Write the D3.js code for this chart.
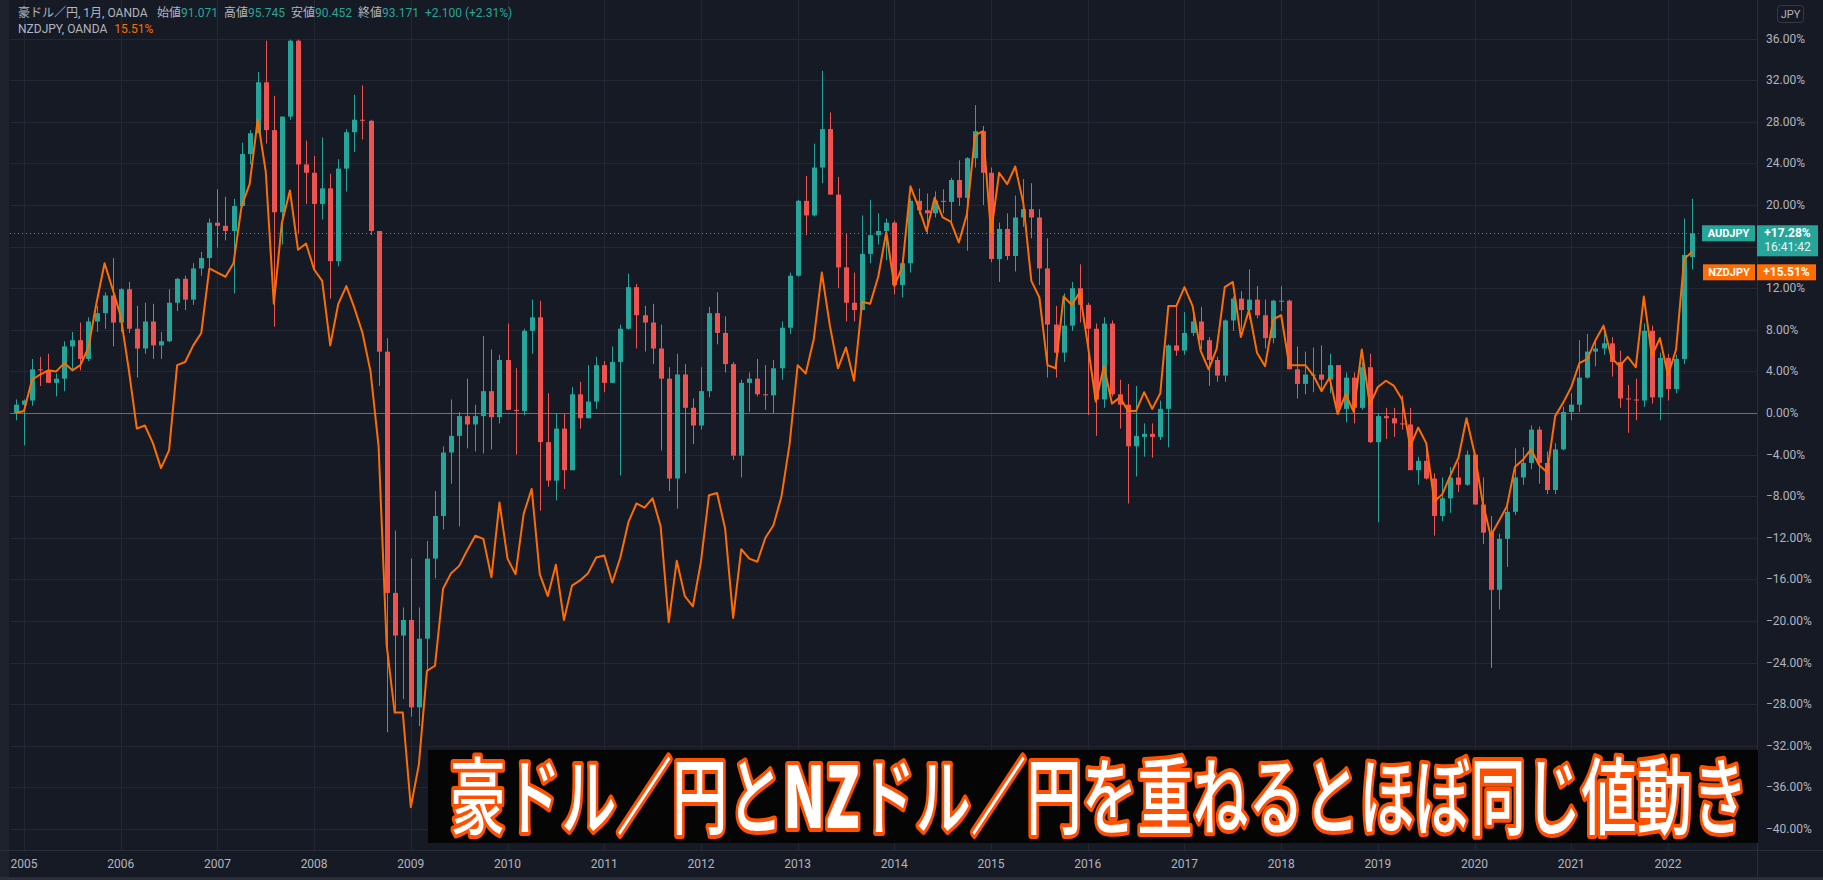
<!DOCTYPE html>
<html><head><meta charset="utf-8">
<script src="https://cdn.jsdelivr.net/npm/d3@7/dist/d3.min.js"></script>
<style>html,body{margin:0;padding:0;background:#161a25;overflow:hidden}</style>
</head><body><svg id="c" width="1823" height="880"></svg>
<script>
// ---- DATA (percent change vs. base, monthly, Dec 2004 .. Apr 2022) ----
const firstMonth = [2004, 11]; // Dec 2004 (JS month index)
const audOpen = [0,
 0.8,1.2,4.2,4.1,2.9,3.3,6.4,7.0,5.2,8.8,9.6,11.3,
 8.7,11.9,8.1,6.2,8.8,6.5,6.9,10.6,12.9,10.9,13.9,14.9,
 18.3,18.0,17.5,19.9,24.9,26.9,31.8,27.2,19.3,28.5,35.8,23.9,
 23.1,20.1,21.6,14.6,23.5,27.0,28.2,28.1,17.5,5.9,-17.3,-21.4,
 -19.9,-28.3,-21.7,-14.0,-9.9,-3.8,-2.2,-0.3,-1.1,-0.3,2.1,-0.4,
 5.1,0.3,0.2,7.9,9.2,-2.8,-6.5,-1.5,-5.5,1.8,-0.5,1.1,
 4.6,2.9,4.9,8.1,12.1,9.4,8.7,6.2,3.3,-6.3,3.7,0.5,
 -1.2,2.1,9.6,7.7,4.7,-4.1,2.9,3.3,1.8,1.7,4.3,8.2,
 13.2,20.4,19.0,23.6,27.3,21.0,14.0,10.6,9.9,15.3,17.1,17.5,
 18.3,12.3,14.4,20.4,19.5,19.2,20.4,20.3,22.4,20.7,24.5,27.1,
 23.1,14.8,17.7,15.1,18.8,19.6,18.8,13.9,8.5,5.8,8.4,12.0,
 10.4,8.1,1.3,8.6,1.8,0.8,-3.2,-2.3,-2.0,-2.3,0.4,6.5,
 6.0,7.7,8.8,7.0,5.1,3.6,8.9,11.0,9.9,10.9,9.4,7.2,
 10.7,10.8,4.2,2.8,3.6,3.7,3.2,4.6,0.4,3.4,0.5,4.4,
 -2.8,-0.3,-0.5,-1.0,-1.1,-5.5,-4.6,-6.3,-9.9,-8.2,-6.2,-6.9,
 -4.0,-8.8,-11.5,-17.0,-12.1,-9.5,-6.2,-4.8,-1.6,-4.8,-7.4,-3.5,
 0.1,0.8,3.4,5.9,6.2,6.7,4.9,1.4,1.3,1.2,7.9,1.5,
 5.3,2.3,5.2,15.0];
const audHigh = [1.3,
 1.3,5.2,5.4,5.7,3.8,6.9,7.8,8.7,9.2,10.3,11.6,14.9,
 12.0,12.6,10.3,10.6,10.5,7.8,11.9,13.0,13.2,14.4,15.5,18.7,
 21.5,20.8,20.6,26.0,27.2,32.8,35.8,30.5,28.5,35.9,35.9,26.2,
 24.7,26.5,23.0,24.4,27.3,30.6,31.5,28.2,17.5,7.2,-11.3,-18.7,
 -14.0,-18.7,-12.3,-7.5,-3.2,1.3,0.1,3.3,0.8,7.4,6.1,5.6,
 8.6,4.3,8.1,10.9,10.8,1.9,0.0,-0.1,2.5,3.0,4.6,5.4,
 5.0,6.4,8.5,13.4,12.4,10.3,10.5,8.5,4.4,5.7,4.7,1.4,
 4.4,10.2,11.6,9.3,4.9,3.2,3.9,5.2,4.6,5.1,8.8,13.5,
 20.5,22.8,25.9,32.9,28.9,22.7,17.2,13.5,19.0,20.5,19.2,18.7,
 18.5,14.5,20.6,21.6,21.1,21.3,21.5,22.6,24.3,24.6,29.6,27.6,
 23.6,18.3,19.2,20.9,22.5,22.1,19.6,16.8,10.3,11.5,12.6,14.3,
 10.6,8.6,9.2,8.9,3.2,2.8,2.6,-1.0,-1.0,1.2,6.6,10.3,
 9.7,10.2,10.2,7.3,5.4,9.0,11.2,11.7,13.8,12.2,10.9,10.9,
 12.2,10.9,6.4,5.9,6.3,6.5,5.7,4.6,3.9,3.9,4.9,5.7,
 -0.1,0.5,0.5,1.7,0.5,-4.2,-3.2,-5.8,-6.2,-5.2,-4.7,-3.6,
 -3.9,-6.2,-9.9,-11.6,-9.0,-3.4,-3.3,-1.2,-1.3,-3.7,-2.9,0.6,
 1.9,7.0,7.6,7.0,8.1,7.3,6.0,2.7,3.3,8.6,8.4,5.8,
 5.7,5.6,18.7,20.6];
const audLow = [-0.7,
 -3.1,0.7,2.6,2.9,1.6,2.1,4.2,4.1,5.0,7.8,8.1,6.4,
 7.8,7.7,3.4,5.7,5.2,5.2,6.8,9.8,9.9,10.4,13.2,14.0,
 15.9,16.6,11.5,19.8,23.9,26.9,25.9,8.3,16.2,28.2,17.2,20.1,
 13.7,18.6,11.0,14.1,21.3,25.1,26.3,17.1,2.6,-30.7,-28.7,-27.5,
 -29.2,-30.1,-24.7,-15.9,-11.2,-6.8,-10.9,-3.4,-3.7,-3.9,-3.5,-1.0,
 0.3,-4.0,-0.2,5.7,-9.4,-7.1,-8.4,-7.3,-5.5,-1.5,-0.5,0.4,
 2.0,2.9,-6.0,8.0,6.2,5.9,4.7,-3.6,-7.5,-9.2,-5.8,-3.0,
 -1.6,1.5,6.6,3.9,-4.5,-6.2,0.1,1.6,0.3,0.0,3.2,7.6,
 13.1,17.1,18.9,22.1,21.0,12.0,8.8,8.8,9.9,14.4,16.2,14.7,
 11.4,11.1,13.5,19.1,17.2,18.8,19.2,18.3,19.9,15.6,23.6,20.0,
 14.5,12.6,14.7,13.6,17.9,16.8,12.3,3.4,3.4,4.9,7.9,8.7,
 -0.2,-2.2,0.5,1.6,-1.5,-8.7,-6.1,-4.2,-4.3,-2.6,-3.3,5.5,
 5.6,7.4,6.1,2.6,3.0,3.0,7.9,8.0,9.0,9.1,6.2,6.7,
 9.8,4.2,1.4,1.8,2.0,2.1,1.9,-0.1,-0.9,-1.0,0.3,-2.9,
 -10.5,-2.5,-2.3,-1.6,-5.5,-6.9,-6.4,-11.8,-10.4,-9.6,-7.6,-7.0,
 -8.8,-12.6,-24.5,-18.9,-14.8,-9.8,-6.9,-5.4,-6.8,-7.8,-7.8,-3.6,
 -0.7,0.1,3.3,4.5,5.6,3.5,0.5,-1.9,-0.7,0.6,0.9,-0.7,
 1.2,1.9,4.7,13.8];
const audClose = [0.8,
 1.2,4.2,4.1,2.9,3.3,6.4,7.0,5.2,8.8,9.6,11.3,8.7,
 11.9,8.1,6.2,8.8,6.5,6.9,10.6,12.9,10.9,13.9,14.9,18.3,
 18.0,17.5,19.9,24.9,26.9,31.8,27.2,19.3,28.5,35.8,23.9,23.1,
 20.1,21.6,14.6,23.5,27.0,28.2,28.1,17.5,5.9,-17.3,-21.4,-19.9,
 -28.3,-21.7,-14.0,-9.9,-3.8,-2.2,-0.3,-1.1,-0.3,2.1,-0.4,5.1,
 0.3,0.2,7.9,9.2,-2.8,-6.5,-1.5,-5.5,1.8,-0.5,1.1,4.6,
 2.9,4.9,8.1,12.1,9.4,8.7,6.2,3.3,-6.3,3.7,0.5,-1.2,
 2.1,9.6,7.7,4.7,-4.1,2.9,3.3,1.8,1.7,4.3,8.2,13.2,
 20.4,19.0,23.6,27.3,21.0,14.0,10.6,9.9,15.3,17.1,17.5,18.3,
 12.3,14.4,20.4,19.5,19.2,20.4,20.3,22.4,20.7,24.5,27.1,23.1,
 14.8,17.7,15.1,18.8,19.6,18.8,13.9,8.5,5.8,8.4,12.0,10.4,
 8.1,1.3,8.6,1.8,0.8,-3.2,-2.2,-2.0,-2.3,0.4,6.5,6.0,
 7.7,8.8,7.0,5.1,3.6,8.9,11.0,9.9,10.9,9.4,7.2,10.8,
 10.8,4.2,2.8,3.7,3.7,3.2,4.6,0.4,3.4,0.5,4.4,-2.8,
 -0.3,-0.5,-1.0,-1.1,-5.5,-4.6,-6.3,-9.9,-8.2,-6.2,-6.9,-4.0,
 -8.8,-11.5,-17.0,-12.1,-9.5,-6.2,-4.8,-1.6,-4.8,-7.4,-3.5,0.1,
 0.8,3.4,5.9,6.2,6.7,4.9,1.4,1.3,1.2,7.9,1.5,5.3,
 2.3,5.2,15.2,17.28];
const nzdClose = [0,
 0.2,3.2,3.7,4.1,4.0,4.8,4.1,4.6,6.3,10.6,14.4,11.9,
 9.3,4.2,-1.5,-1.2,-2.9,-5.3,-3.6,4.6,4.9,6.5,7.7,13.9,
 13.5,13.1,14.4,19.9,22.0,28.2,23.2,10.5,18.3,21.4,15.7,16.3,
 13.8,12.7,6.5,10.5,12.2,10.1,7.7,4.0,-3.2,-22.3,-28.8,-28.8,
 -37.9,-33.8,-24.8,-24.3,-16.9,-15.4,-14.7,-13.2,-11.8,-12.1,-15.8,-8.6,
 -14.0,-15.5,-9.7,-7.3,-15.5,-17.6,-14.6,-19.9,-16.6,-16.1,-15.4,-13.9,
 -13.7,-16.3,-13.9,-10.5,-8.7,-9.1,-8.2,-10.9,-20.1,-14.2,-17.6,-18.6,
 -14.3,-7.9,-7.7,-11.1,-19.7,-13.1,-14.0,-14.3,-12.0,-10.8,-8.0,-3.0,
 4.6,3.8,7.1,13.5,8.4,4.3,6.3,3.1,10.7,10.5,13.1,17.4,
 12.2,14.1,21.8,19.8,17.5,20.7,18.8,18.4,16.4,19.1,26.7,27.1,
 17.3,23.1,22.0,23.7,20.2,12.7,11.1,4.6,4.3,11.2,10.4,11.6,
 6.6,1.1,4.5,0.9,1.5,0.2,0.2,2.0,0.4,1.9,10.3,10.3,
 12.1,10.3,6.0,4.2,6.2,12.1,12.6,7.3,9.9,5.8,4.5,9.0,
 9.4,4.6,4.6,4.6,3.6,2.1,3.4,-0.1,1.8,0.1,6.1,0.8,
 2.5,3.1,2.6,1.3,-3.2,-1.4,-2.9,-8.5,-7.8,-6.0,-4.3,-0.5,
 -3.9,-8.6,-11.8,-10.4,-9.0,-5.2,-4.5,-3.5,-5.0,-5.7,-0.3,1.0,
 2.5,4.8,5.2,7.0,8.4,5.3,4.5,5.4,4.4,11.2,5.5,7.2,
 3.6,6.1,14.8,15.51];
const yTicks = [36,32,28,24,20,16,12,8,4,0,-4,-8,-12,-16,-20,-24,-28,-32,-36,-40];
const yearLabels = ["2005","2006","2007","2008","2009","2010","2011","2012","2013","2014","2015","2016","2017","2018","2019","2020","2021","2022"];
const legendTitle = "豪ドル／円, 1月, OANDA";
const legendOHLC = [["始値","91.071"],["高値","95.745"],["安値","90.452"],["終値","93.171"]];
const legendChange = "+2.100 (+2.31%)";
const series2Name = "NZDJPY, OANDA";
const audLabel = "AUDJPY", nzdLabel = "NZDJPY";
const audLast = "+17.28%", nzdLast = "+15.51%", countdown = "16:41:42";
const banner = ["豪ドル／円と","NZ","ドル／円を重ねるとほぼ同じ値動き"];

// ---- LAYOUT ----
const W = 1823, H = 880;
const plotL = 10, plotR = 1757, plotB = 850;
const UP = "#26a69a", DOWN = "#ef5350", ORANGE = "#ff6d00";
const TXT = "#b2b5be", GRID = "#232733";
const FONT = "Roboto, 'Noto Sans CJK JP', sans-serif";

const svg = d3.select("#c");
svg.append("rect").attr("width", W).attr("height", H).attr("fill", "#161a25");
svg.append("rect").attr("x", 0).attr("y", 0).attr("width", 9).attr("height", H).attr("fill", "#1e222d");

const months = audClose.map((_, i) => new Date(firstMonth[0], firstMonth[1] + i, 1));
const x = d3.scaleLinear().domain([1, 205]).range([24, 1668]);   // month index -> px
const y = d3.scaleLinear().domain([-40, 36]).range([829, 38.6]);  // percent -> px
const px = v => Math.round(v) + 0.5;

const defs = svg.append("defs");
defs.append("clipPath").attr("id", "plotclip").append("rect")
  .attr("x", plotL).attr("y", 0).attr("width", plotR - plotL).attr("height", plotB);

// grid
const grid = svg.append("g");
grid.selectAll("line.h").data(yTicks).join("line")
  .attr("x1", plotL).attr("x2", plotR)
  .attr("y1", d => px(y(d))).attr("y2", d => px(y(d)))
  .attr("stroke", GRID).attr("stroke-width", 1);
const yearIdx = yearLabels.map(yl => months.findIndex(m => m.getFullYear() === +yl && m.getMonth() === 0));
grid.selectAll("line.v").data(yearIdx).join("line")
  .attr("x1", d => px(x(d))).attr("x2", d => px(x(d)))
  .attr("y1", 0).attr("y2", plotB)
  .attr("stroke", GRID).attr("stroke-width", 1);

const plot = svg.append("g").attr("clip-path", "url(#plotclip)");
// zero line
plot.append("line").attr("x1", plotL).attr("x2", plotR)
  .attr("y1", px(y(0))).attr("y2", px(y(0))).attr("stroke", "#6b6e79").attr("stroke-width", 1);

// candles
const idx = d3.range(audClose.length);
const cg = plot.append("g");
cg.selectAll("line.wick").data(idx).join("line")
  .attr("x1", i => px(x(i))).attr("x2", i => px(x(i)))
  .attr("y1", i => y(audHigh[i])).attr("y2", i => y(audLow[i]))
  .attr("stroke", i => audClose[i] >= audOpen[i] ? UP : DOWN).attr("stroke-width", 1);
cg.selectAll("rect.body").data(idx).join("rect")
  .attr("x", i => Math.round(x(i)) - 2).attr("width", 5)
  .attr("y", i => y(Math.max(audOpen[i], audClose[i])))
  .attr("height", i => Math.max(1, Math.abs(y(audOpen[i]) - y(audClose[i]))))
  .attr("fill", i => audClose[i] >= audOpen[i] ? UP : DOWN);

// last price dotted line
const lastA = audClose[audClose.length - 1], lastN = nzdClose[nzdClose.length - 1];
plot.append("line").attr("x1", plotL).attr("x2", plotR)
  .attr("y1", px(y(lastA))).attr("y2", px(y(lastA)))
  .attr("stroke", UP).attr("stroke-width", 1).attr("stroke-dasharray", "1,3");

// NZDJPY line
plot.append("path").datum(nzdClose)
  .attr("d", d3.line().x((d, i) => x(i)).y(d => y(d)))
  .attr("fill", "none").attr("stroke", ORANGE).attr("stroke-width", 2).attr("stroke-linejoin", "round");

// axes borders
svg.append("line").attr("x1", 0).attr("x2", W).attr("y1", plotB + 0.5).attr("y2", plotB + 0.5).attr("stroke", "#2a2e39");
svg.append("line").attr("x1", plotR + 0.5).attr("x2", plotR + 0.5).attr("y1", 0).attr("y2", H).attr("stroke", "#2a2e39");
svg.append("rect").attr("x", 0).attr("y", 877).attr("width", W).attr("height", 3).attr("fill", "#2a2e39");

// price label positions
const ya = y(lastA);
const yn = ya + 31;

// right axis labels (those hidden behind the price labels are not drawn)
const fmt = d => (d < 0 ? "\u2212" : "") + Math.abs(d).toFixed(2) + "%";
const visibleTicks = yTicks.filter(d => y(d) < ya - 14 || y(d) > yn + 22);
svg.append("g").selectAll("text").data(visibleTicks).join("text")
  .attr("x", 1766).attr("y", d => y(d) + 4)
  .attr("fill", TXT).attr("font-family", FONT).attr("font-size", 12).text(fmt);

// bottom axis labels
svg.append("g").selectAll("text").data(yearIdx).join("text")
  .attr("x", d => x(d)).attr("y", 868).attr("text-anchor", "middle")
  .attr("fill", TXT).attr("font-family", FONT).attr("font-size", 12)
  .text((d, i) => yearLabels[i]);

// JPY button
svg.append("rect").attr("x", 1777.5).attr("y", 5.5).attr("width", 26).attr("height", 17).attr("rx", 3)
  .attr("fill", "none").attr("stroke", "#363a45");
svg.append("text").attr("x", 1790.5).attr("y", 18).attr("text-anchor", "middle")
  .attr("fill", TXT).attr("font-family", FONT).attr("font-size", 11).text("JPY");

// price labels
svg.append("rect").attr("x", 1702).attr("y", ya - 8).attr("width", 53).attr("height", 16).attr("fill", UP);
svg.append("text").attr("x", 1728.5).attr("y", ya + 4).attr("text-anchor", "middle").attr("fill", "#fff")
  .attr("font-family", FONT).attr("font-weight", 700).attr("font-size", 11).text(audLabel);
svg.append("rect").attr("x", 1757).attr("y", ya - 8).attr("width", 61).attr("height", 31).attr("fill", UP);
svg.append("text").attr("x", 1787.5).attr("y", ya + 4).attr("text-anchor", "middle").attr("fill", "#fff")
  .attr("font-family", FONT).attr("font-weight", 700).attr("font-size", 12).text(audLast);
svg.append("text").attr("x", 1787.5).attr("y", ya + 18).attr("text-anchor", "middle").attr("fill", "#e8f5f3")
  .attr("font-family", FONT).attr("font-size", 12).text(countdown);
svg.append("rect").attr("x", 1703).attr("y", yn).attr("width", 52).attr("height", 16).attr("fill", ORANGE);
svg.append("text").attr("x", 1729).attr("y", yn + 12).attr("text-anchor", "middle").attr("fill", "#fff")
  .attr("font-family", FONT).attr("font-weight", 700).attr("font-size", 11).text(nzdLabel);
svg.append("rect").attr("x", 1757).attr("y", yn).attr("width", 59).attr("height", 16).attr("fill", ORANGE);
svg.append("text").attr("x", 1786.5).attr("y", yn + 12).attr("text-anchor", "middle").attr("fill", "#fff")
  .attr("font-family", FONT).attr("font-weight", 700).attr("font-size", 12).text(nzdLast);

// legend
const lg = svg.append("g").attr("font-family", FONT).attr("font-size", 12);
lg.append("text").attr("x", 18).attr("y", 17).attr("fill", TXT).text(legendTitle);
const lx = [157, 224, 291, 358];
legendOHLC.forEach((p, i) => {
  const t = lg.append("text").attr("x", lx[i]).attr("y", 17);
  t.append("tspan").attr("fill", TXT).text(p[0]);
  t.append("tspan").attr("fill", UP).text(p[1]);
});
lg.append("text").attr("x", 425).attr("y", 17).attr("fill", UP).text(legendChange);
const l2 = lg.append("text").attr("x", 18).attr("y", 33);
l2.append("tspan").attr("fill", TXT).text(series2Name);
l2.append("tspan").attr("fill", ORANGE).attr("dx", 7).text(lastN.toFixed(2) + "%");

// banner (condensed via horizontal scale)
svg.append("rect").attr("x", 428).attr("y", 750).attr("width", 1330).attr("height", 93).attr("fill", "#050505");
const bgr = svg.append("g").attr("transform", "translate(450,828)");
const bt = bgr.append("text").attr("x", 0).attr("y", 0)
  .attr("font-family", "'Noto Sans CJK JP', sans-serif").attr("font-weight", 500).attr("font-size", 84)
  .attr("fill", "#ffffff").attr("stroke", "#ff4f00").attr("stroke-width", 8).attr("stroke-linejoin", "round")
  .attr("paint-order", "stroke");
bt.append("tspan").text(banner[0]);
bt.append("tspan").attr("font-weight", 900).text(banner[1]);
bt.append("tspan").text(banner[2]);
const natW = bt.node().getComputedTextLength();
bt.attr("transform", `scale(${1298 / natW},1)`);
</script></body></html>
